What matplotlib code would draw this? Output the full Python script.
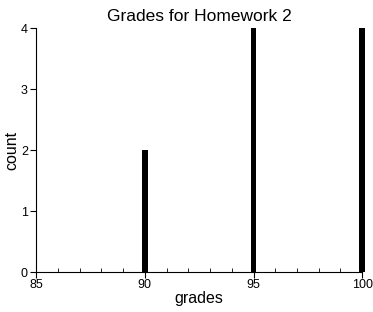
import matplotlib
matplotlib.use("Agg")
import matplotlib.pyplot as plt
from matplotlib.ticker import MultipleLocator

# datos
notas = [90, 95, 100]
cantidad = [2, 4, 4]

plt.rcParams["font.family"] = ["Liberation Sans", "DejaVu Sans"]

figura = plt.figure(figsize=(3.73, 3.12), dpi=100)
ejes = figura.add_axes([0.097, 0.128, 0.874, 0.782])

ejes.bar(notas, cantidad, width=0.26, color="black", clip_on=False)

ejes.set_xlim(85, 100)
ejes.set_ylim(0, 4)
ejes.set_xticks([85, 90, 95, 100])
ejes.xaxis.set_minor_locator(MultipleLocator(1))
ejes.set_yticks([0, 1, 2, 3, 4])

ejes.spines["top"].set_visible(False)
ejes.spines["right"].set_visible(False)
ejes.tick_params(axis="x", which="major", direction="out", length=4, labelsize=9, pad=1)
ejes.tick_params(axis="x", which="minor", direction="in", length=3)
ejes.tick_params(axis="y", direction="out", length=4, labelsize=9, pad=2)

ejes.set_title("Grades for Homework 2", fontsize=12.5, pad=5)
ejes.set_xlabel("grades", fontsize=11.5, labelpad=0)
ejes.set_ylabel("count", fontsize=11.5, labelpad=1)

figura.savefig("out.png", dpi=100)
